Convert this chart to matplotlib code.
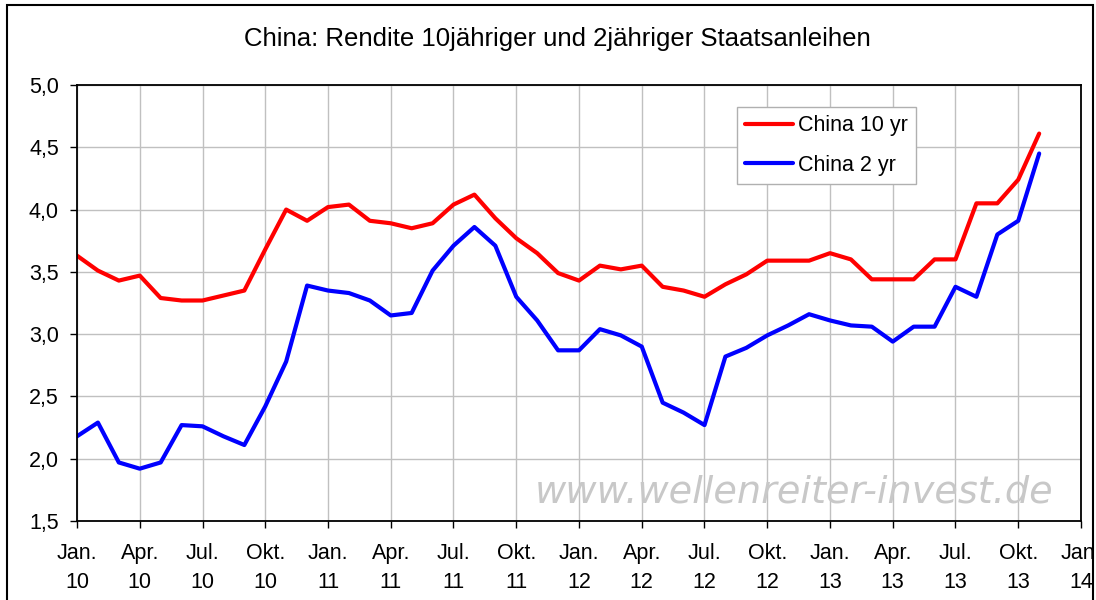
import numpy as np
import matplotlib
matplotlib.use("Agg")
import matplotlib.pyplot as plt
from matplotlib.patches import Rectangle

plt.rcParams['font.family'] = ['Liberation Sans', 'DejaVu Sans']

# monthly yields, Jan 2010 .. Nov 2013
china_10y = [3.63, 3.51, 3.43, 3.47, 3.29, 3.27, 3.27, 3.31, 3.35, 3.68, 4.00, 3.91,
             4.02, 4.04, 3.91, 3.89, 3.85, 3.89, 4.04, 4.12, 3.93, 3.77, 3.65, 3.49,
             3.43, 3.55, 3.52, 3.55, 3.38, 3.35, 3.30, 3.40, 3.48, 3.59, 3.59, 3.59,
             3.65, 3.60, 3.44, 3.44, 3.44, 3.60, 3.60, 4.05, 4.05, 4.24, 4.61]
china_2y = [2.18, 2.29, 1.97, 1.92, 1.97, 2.27, 2.26, 2.18, 2.11, 2.42, 2.78, 3.39,
            3.35, 3.33, 3.27, 3.15, 3.17, 3.51, 3.71, 3.86, 3.71, 3.30, 3.11, 2.87,
            2.87, 3.04, 2.99, 2.90, 2.45, 2.37, 2.27, 2.82, 2.89, 2.99, 3.07, 3.16,
            3.11, 3.07, 3.06, 2.94, 3.06, 3.06, 3.38, 3.30, 3.80, 3.91, 4.45]
quarter_labels = ["Jan.\n10", "Apr.\n10", "Jul.\n10", "Okt.\n10",
                  "Jan.\n11", "Apr.\n11", "Jul.\n11", "Okt.\n11",
                  "Jan.\n12", "Apr.\n12", "Jul.\n12", "Okt.\n12",
                  "Jan.\n13", "Apr.\n13", "Jul.\n13", "Okt.\n13", "Jan.\n14"]
y_ticks = [1.5, 2.0, 2.5, 3.0, 3.5, 4.0, 4.5, 5.0]

months = np.arange(len(china_10y))

fig = plt.figure(figsize=(10.96, 6.0), dpi=100)
ax = fig.add_axes([77/1096, 1 - 521/600, 1004/1096, 436/600])

# outer chart border
fig.patches.append(Rectangle((7/1096, -0.1), 1086/1096, 1.1 - 5/600, transform=fig.transFigure,
                             fill=False, edgecolor='black', linewidth=1.5))

ax.plot(months, china_10y, color='#ff0000', lw=3, label='China 10 yr', solid_capstyle='round')
ax.plot(months, china_2y, color='#0000ff', lw=3, label='China 2 yr', solid_capstyle='round')

ax.set_xlim(0, 48)
ax.set_ylim(1.5, 5.0)
ax.set_xticks(np.arange(0, 49, 3))
ax.set_xticklabels(quarter_labels, linespacing=1.5)
ax.set_yticks(y_ticks)
ax.set_yticklabels([f"{v:.1f}".replace('.', ',') for v in y_ticks])
ax.tick_params(axis='both', direction='out', length=5, width=1, colors='black', labelsize=15.5)
ax.tick_params(axis='x', pad=11)
ax.tick_params(axis='y', pad=8)

ax.grid(True, color='#c0c0c0', lw=1)
ax.set_axisbelow(True)
for s in ax.spines.values():
    s.set_color('black')
    s.set_linewidth(1.3)

ax.text(0.714, 0.065, "www.wellenreiter-invest.de", transform=ax.transAxes,
        fontsize=27.5, style='italic', color='#c8c8c8', ha='center', va='center',
        family='DejaVu Sans', zorder=1)

leg = ax.legend(loc='upper left', bbox_to_anchor=(0.657, 0.95), fontsize=15.5,
                frameon=True, fancybox=False, edgecolor='#b0b0b0', framealpha=1,
                handlelength=2.2, handletextpad=0.25, labelspacing=0.85, borderpad=0.4,
                borderaxespad=0)
leg.get_frame().set_linewidth(1)

fig.text(557/1096, 1 - 39/600, "China: Rendite 10jähriger und 2jähriger Staatsanleihen",
         ha='center', va='center', fontsize=18.5)

fig.savefig("out.png", dpi=100)
